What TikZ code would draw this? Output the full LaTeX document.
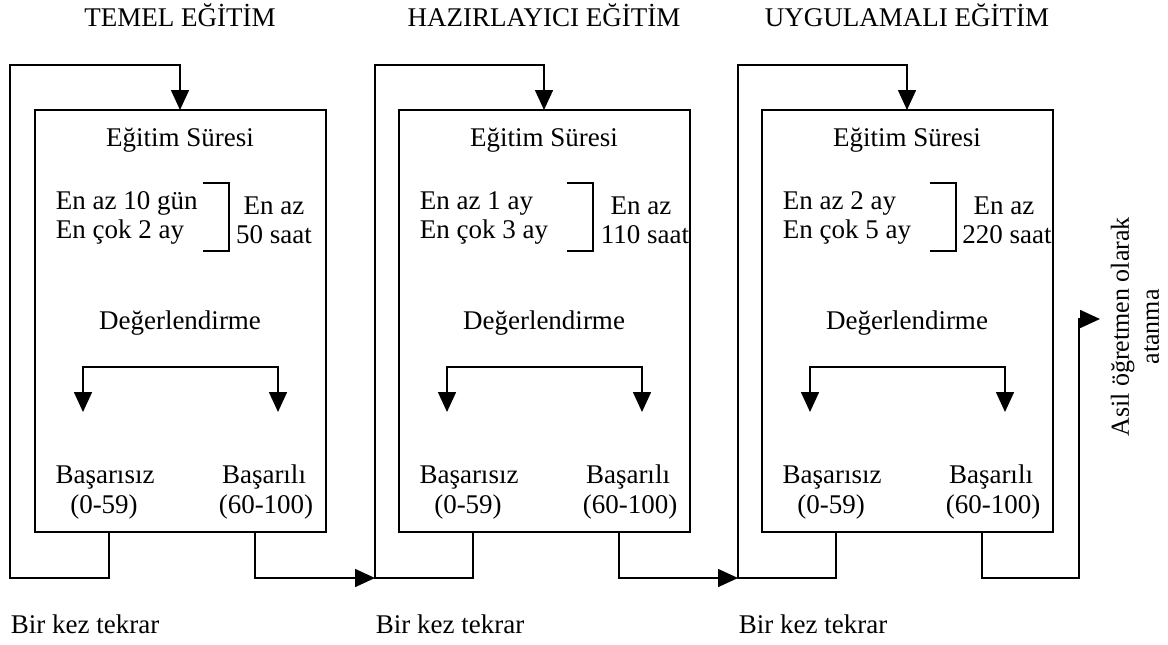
\documentclass[tikz,border=0pt]{standalone}
\usepackage{fontspec}
\setmainfont{Liberation Serif}
\usetikzlibrary{arrows.meta}

\begin{document}
\begin{tikzpicture}[x=1pt,y=-1pt, line width=1.6pt, line join=miter,
  stage/.style={draw, minimum width=291pt, minimum height=422pt, anchor=north west, inner sep=0pt, outer sep=0pt},
  txt/.style={font=\fontsize{27}{30}\selectfont, inner sep=0pt, text height=18pt, text depth=6pt},
  head/.style={-{Triangle[length=20pt,width=18pt]}},
  twohead/.style={{Triangle[length=20pt,width=18pt]}-{Triangle[length=20pt,width=18pt]}},
]
\useasboundingbox (0,0) rectangle (1168,645);

% three stages: box, feedback loop, split arrows and bracket
\foreach \i/\bx/\lx in {1/35/10,2/399/375,3/762/738} {
  \node[stage] (b\i) at (\bx,110) {};
  \coordinate (top\i) at (\lx,65);
  \coordinate (bot\i) at (\lx,578);
  \coordinate (in\i)   at ([xshift=145pt]b\i.north west);
  \coordinate (fail\i) at ([xshift=74pt]b\i.south west);
  \coordinate (pass\i) at ([xshift=220pt]b\i.south west);
  \draw[head] (fail\i) |- (bot\i) -- (top\i) -| (in\i);
  \coordinate (sl\i) at (\bx+48,367);
  \coordinate (sr\i) at (\bx+243,367);
  \coordinate (al\i) at (\bx+48,412);
  \coordinate (ar\i) at (\bx+243,412);
  \draw[twohead] (al\i) -- (sl\i) -- (sr\i) -- (ar\i);
  \draw (\bx+168,183) -- (\bx+194,183) -- (\bx+194,251) -- (\bx+168,251);
  \node[txt] (dur\i) at (\bx+145,140) {Eğitim Süresi};
  \node[txt] (ev\i)  at (\bx+145,323) {Değerlendirme};
  \node[txt] (fa\i)  at (\bx+70,477) {Başarısız};
  \node[txt] (fb\i)  at (\bx+69,507) {(0-59)};
  \node[txt] (pa\i)  at (\bx+229,477) {Başarılı};
  \node[txt] (pb\i)  at (\bx+231,507) {(60-100)};
  \node[txt, anchor=west] (rep\i) at (\lx,627) {Bir kez tekrar};
}

% stage titles
\node[txt] (t1) at (180,20) {TEMEL EĞİTİM};
\node[txt] (t2) at (544,20) {HAZIRLAYICI EĞİTİM};
\node[txt] (t3) at (907,20) {UYGULAMALI EĞİTİM};

% durations
\node[txt, anchor=west] (m1a) at (55,203) {En az 10 gün};
\node[txt, anchor=west] (m1b) at (55,232) {En çok 2 ay};
\node[txt] (h1a) at (274,208) {En az};
\node[txt] (h1b) at (274,237) {50 saat};

\node[txt, anchor=west] (m2a) at (419,203) {En az 1 ay};
\node[txt, anchor=west] (m2b) at (419,232) {En çok 3 ay};
\node[txt] (h2a) at (641,208) {En az};
\node[txt] (h2b) at (645,237) {110 saat};

\node[txt, anchor=west] (m3a) at (782,203) {En az 2 ay};
\node[txt, anchor=west] (m3b) at (782,232) {En çok 5 ay};
\node[txt] (h3a) at (1004,208) {En az};
\node[txt] (h3b) at (1007,237) {220 saat};

% passing moves on to the next stage
\draw[head] (pass1) |- (bot2);
\draw[head] (pass2) |- (bot3);

% final appointment
\coordinate (c3) at (1079,578);
\coordinate (u3) at (1079,319);
\coordinate (goalin) at (1100,319);
\draw[head] (pass3) |- (c3) -- (u3) -- (goalin);
\node[font=\fontsize{26}{30}\selectfont, rotate=90, align=center, inner sep=0pt] (goal) at (1135,327)
  {Asil öğretmen olarak\\atanma};
\end{tikzpicture}
\end{document}
